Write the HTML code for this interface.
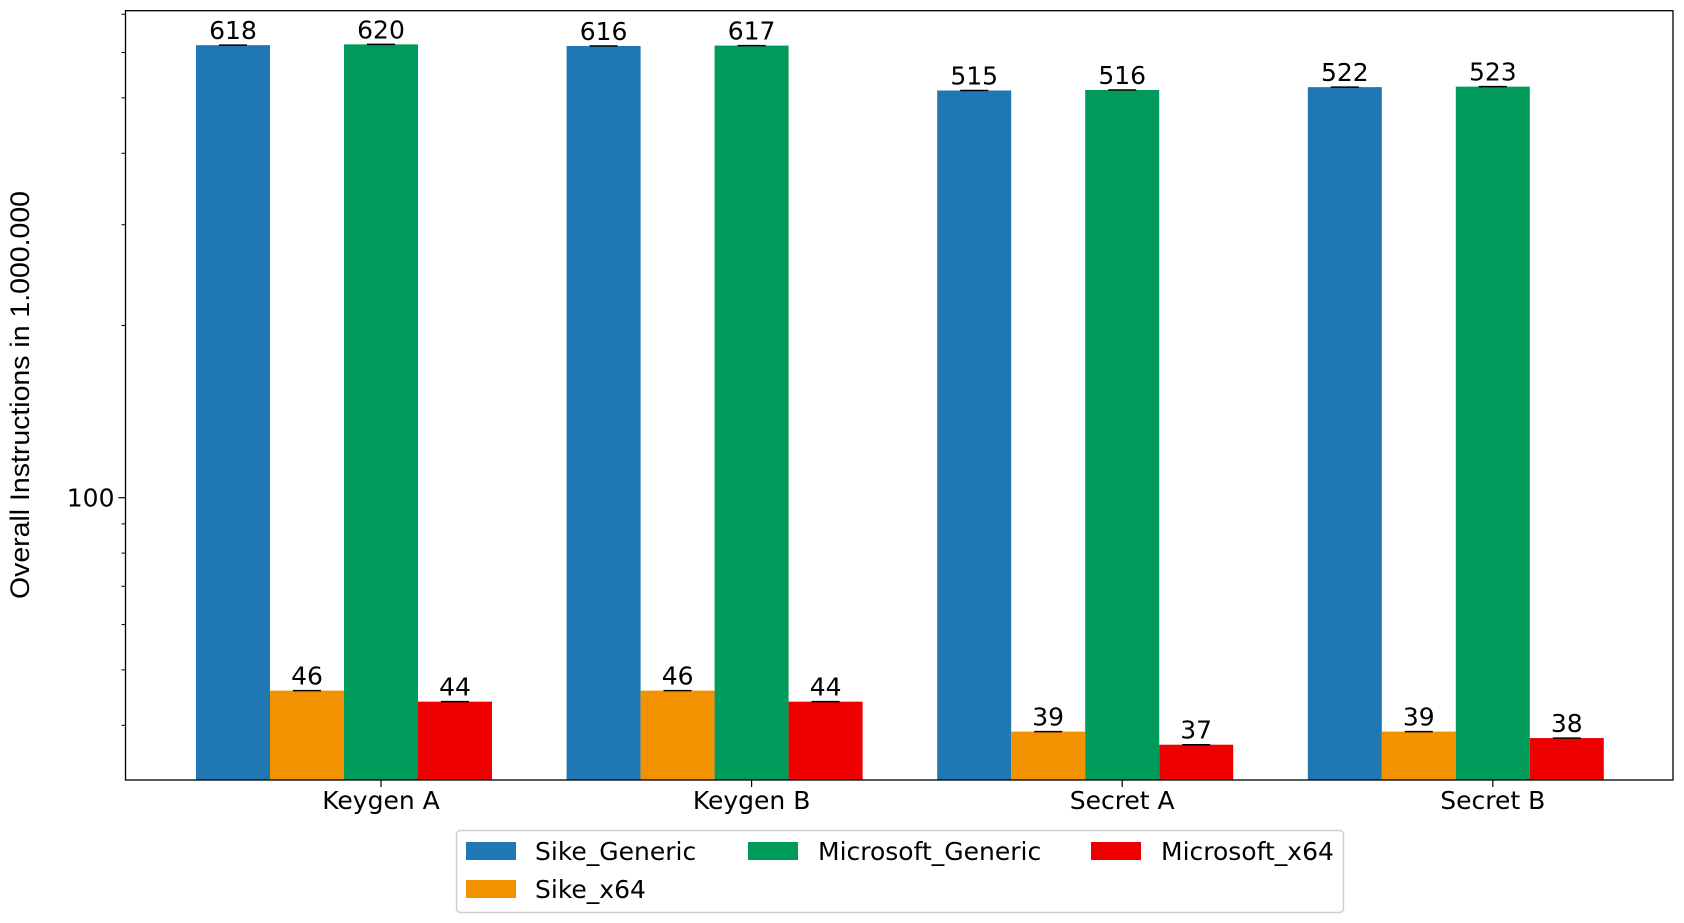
<!DOCTYPE html>
<html><head><meta charset="utf-8"><style>
html,body{margin:0;padding:0;background:#fff;}
svg{display:block;font-family:"DejaVu Sans","Liberation Sans",sans-serif;}
</style></head><body>
<svg id="chart" width="1684" height="923" viewBox="0 0 1684 923" xmlns="http://www.w3.org/2000/svg">
<g id="bars"></g>
<g id="axes"></g>
<text x="29" y="395" transform="rotate(-90 29 395)" text-anchor="middle" font-family="'Liberation Sans',sans-serif" font-size="27" textLength="408" lengthAdjust="spacingAndGlyphs">Overall Instructions in 1.000.000</text>
<g>
<rect x="456.5" y="830.5" width="887" height="82" rx="4" fill="#fff" stroke="#d0d0d0" stroke-width="1.5"/>
<g><rect x="466" y="842" width="50" height="18" fill="#1f77b4"/><text x="535" y="860" font-size="25">Sike_Generic</text></g>
<g><rect x="466" y="880" width="50" height="18" fill="#f39200"/><text x="535" y="898" font-size="25">Sike_x64</text></g>
<g><rect x="748" y="842" width="50" height="18" fill="#009b5a"/><text x="818" y="860" font-size="25">Microsoft_Generic</text></g>
<g><rect x="1091" y="842" width="50" height="18" fill="#ee0000"/><text x="1161" y="860" font-size="25">Microsoft_x64</text></g>
</g>
</svg>
<script>
const categories = ["Keygen A","Keygen B","Secret A","Secret B"];
const seriesNames = ["Sike_Generic","Sike_x64","Microsoft_Generic","Microsoft_x64"];
const sikeGeneric = [618,616,515,522];
const sikeX64 = [46,46,39,39];
const microsoftGeneric = [620,617,516,523];
const microsoftX64 = [44,44,37,38];
const yTicks = [100];
const yMinorTicks = [40,50,60,70,80,90,200,300,400,500,600,700];
const colors = ["#1f77b4","#f39200","#009b5a","#ee0000"];
const series = [sikeGeneric, sikeX64, microsoftGeneric, microsoftX64];

const NS = "http://www.w3.org/2000/svg";
const L=125.5, R=1673, T=10.7, B=780;
const yMin=32.1, yMax=710;
function y(v){return B - (Math.log10(v)-Math.log10(yMin))/(Math.log10(yMax)-Math.log10(yMin))*(B-T);}
function xc(i){return 381 + i*370.6;}
const bw=74;
function mk(tag,attrs,parent){const e=document.createElementNS(NS,tag);for(const k in attrs)e.setAttribute(k,attrs[k]);parent.appendChild(e);return e;}
const gb=document.getElementById('bars'), ga=document.getElementById('axes');
series.forEach((s,si)=>{
  s.forEach((v,ci)=>{
    const x = xc(ci) + (si-2)*bw - bw/2;
    const r = mk('rect',{x:x,y:y(v),width:bw,height:B-y(v),fill:colors[si]},gb);
    
    
    const c = mk('line',{x1:x+bw/2-14,x2:x+bw/2+14,y1:y(v),y2:y(v),stroke:'#000','stroke-width':1.5},gb);
    
    
    const t = mk('text',{x:x+bw/2,y:y(v)-6,'text-anchor':'middle','font-size':25},gb);
    t.textContent = v;
    
    
  });
});
const frame = mk('rect',{x:L,y:T,width:R-L,height:B-T,fill:'none',stroke:'#000','stroke-width':1.3},ga);


yTicks.forEach(v=>{
  mk('line',{x1:L-7,x2:L,y1:y(v),y2:y(v),stroke:'#000','stroke-width':1.2},ga);
  const t=mk('text',{x:L-11,y:y(v)+9,'text-anchor':'end','font-size':25},ga);
  t.textContent=v;
  
  
});
yMinorTicks.forEach(v=>{
  if(v>=yMin&&v<=yMax) mk('line',{x1:L-4,x2:L,y1:y(v),y2:y(v),stroke:'#000','stroke-width':1},ga);
});
categories.forEach((c,i)=>{
  mk('line',{x1:xc(i),x2:xc(i),y1:B,y2:B+7,stroke:'#000','stroke-width':1.2},ga);
  const t=mk('text',{x:xc(i),y:B+29,'text-anchor':'middle','font-size':25},ga);
  t.textContent=c;
  
  
});
</script>
</body></html>
